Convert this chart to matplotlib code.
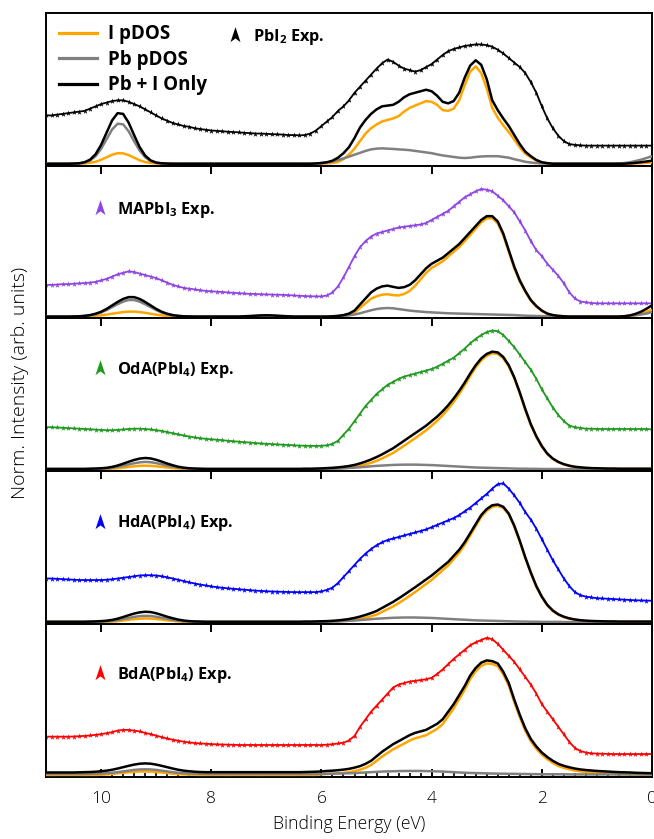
import numpy as np
import matplotlib
matplotlib.use('Agg')
import matplotlib.pyplot as plt
from matplotlib.path import Path
from matplotlib.lines import Line2D
from matplotlib.ticker import MultipleLocator

plt.rcParams['font.family'] = ['Open Sans', 'DejaVu Sans']

# Binding energy grid (eV), 11.0 -> 0.0 in 0.1 steps
energy = np.round(np.linspace(11.0, 0.0, 111), 2)

# ---------------- Panel 1: PbI2 ----------------
p1_exp = [0.32, 0.32, 0.325, 0.33, 0.335, 0.34, 0.345, 0.35, 0.365, 0.38,
          0.395, 0.405, 0.415, 0.42, 0.42, 0.41, 0.395, 0.38, 0.36, 0.34,
          0.32, 0.30, 0.285, 0.27, 0.26, 0.25, 0.245, 0.235, 0.23, 0.225,
          0.22, 0.218, 0.215, 0.212, 0.21, 0.208, 0.205, 0.203, 0.2, 0.2,
          0.198, 0.196, 0.195, 0.193, 0.19, 0.19, 0.188, 0.19, 0.20, 0.22,
          0.25, 0.28, 0.31, 0.35, 0.38, 0.42, 0.47, 0.51, 0.55, 0.59,
          0.63, 0.665, 0.69, 0.675, 0.65, 0.63, 0.62, 0.61, 0.62, 0.64,
          0.66, 0.69, 0.72, 0.745, 0.76, 0.77, 0.78, 0.785, 0.79, 0.79,
          0.785, 0.775, 0.755, 0.73, 0.70, 0.67, 0.64, 0.60, 0.54, 0.47,
          0.38, 0.30, 0.235, 0.185, 0.15, 0.13, 0.125, 0.122, 0.12, 0.12,
          0.12, 0.12, 0.12, 0.12, 0.12, 0.12, 0.12, 0.12, 0.12, 0.12,
          0.12]
p1_tot = [0, 0, 0, 0, 0, 0.001, 0.003, 0.01, 0.027, 0.063,
          0.125, 0.206, 0.287, 0.335, 0.33, 0.272, 0.189, 0.11, 0.054, 0.022,
          0.008, 0.003, 0.001, 0, 0, 0, 0, 0, 0, 0,
          0, 0, 0, 0, 0, 0, 0, 0, 0, 0,
          0, 0, 0, 0, 0, 0, 0, 0, 0, 0.002,
          0.005, 0.01, 0.02, 0.04, 0.07, 0.11, 0.17, 0.24, 0.29, 0.33,
          0.36, 0.38, 0.385, 0.39, 0.41, 0.44, 0.46, 0.47, 0.48, 0.49,
          0.48, 0.45, 0.41, 0.40, 0.415, 0.47, 0.57, 0.65, 0.685, 0.655,
          0.56, 0.42, 0.355, 0.30, 0.25, 0.19, 0.13, 0.08, 0.05, 0.025,
          0.01, 0.004, 0, 0, 0, 0, 0, 0, 0, 0,
          0, 0, 0, 0, 0, 0, 0.003, 0.006, 0.01, 0.015,
          0.02]
p1_pb = [0, 0, 0, 0, 0, 0.001, 0.002, 0.008, 0.021, 0.05,
         0.099, 0.163, 0.227, 0.265, 0.261, 0.215, 0.149, 0.087, 0.043, 0.017,
         0.006, 0.002, 0.001, 0, 0, 0, 0, 0, 0, 0,
         0, 0, 0, 0, 0, 0, 0, 0, 0, 0,
         0, 0, 0, 0, 0, 0, 0, 0, 0, 0,
         0.005, 0.008, 0.015, 0.025, 0.035, 0.047, 0.06, 0.072, 0.085, 0.095,
         0.10, 0.102, 0.10, 0.098, 0.095, 0.093, 0.09, 0.085, 0.08, 0.075,
         0.07, 0.062, 0.055, 0.05, 0.045, 0.04, 0.038, 0.04, 0.045, 0.048,
         0.05, 0.05, 0.05, 0.045, 0.04, 0.03, 0.022, 0.013, 0.008, 0.004,
         0.002, 0, 0, 0, 0, 0, 0, 0, 0, 0,
         0, 0, 0, 0, 0.002, 0.005, 0.01, 0.018, 0.027, 0.038,
         0.05]
p1_i = [0, 0, 0, 0, 0, 0, 0.001, 0.002, 0.006, 0.013,
        0.026, 0.043, 0.06, 0.07, 0.069, 0.057, 0.04, 0.023, 0.011, 0.005,
        0.002, 0.001, 0, 0, 0, 0, 0, 0, 0, 0,
        0, 0, 0, 0, 0, 0, 0, 0, 0, 0,
        0, 0, 0, 0, 0, 0, 0, 0, 0, 0,
        0, 0.002, 0.005, 0.012, 0.03, 0.06, 0.10, 0.15, 0.20, 0.235,
        0.26, 0.28, 0.29, 0.30, 0.315, 0.345, 0.37, 0.385, 0.40, 0.415,
        0.41, 0.39, 0.355, 0.35, 0.365, 0.42, 0.52, 0.61, 0.645, 0.60,
        0.50, 0.37, 0.305, 0.255, 0.21, 0.16, 0.108, 0.067, 0.042, 0.021,
        0.008, 0.003, 0, 0, 0, 0, 0, 0, 0, 0,
        0, 0, 0, 0, 0, 0, 0, 0.002, 0.004, 0.006,
        0.01]

# ---------------- Panel 2: MAPbI3 ----------------
p2_exp = [0.21, 0.21, 0.212, 0.215, 0.215, 0.218, 0.22, 0.222, 0.225, 0.23,
          0.24, 0.25, 0.265, 0.28, 0.29, 0.30, 0.295, 0.285, 0.275, 0.265,
          0.255, 0.24, 0.225, 0.21, 0.20, 0.19, 0.185, 0.18, 0.175, 0.17,
          0.168, 0.165, 0.163, 0.16, 0.158, 0.155, 0.153, 0.15, 0.15, 0.148,
          0.147, 0.146, 0.145, 0.144, 0.142, 0.14, 0.138, 0.136, 0.135, 0.134,
          0.134, 0.14, 0.16, 0.20, 0.26, 0.33, 0.40, 0.46, 0.50, 0.53,
          0.55, 0.56, 0.57, 0.58, 0.59, 0.595, 0.60, 0.605, 0.61, 0.62,
          0.64, 0.66, 0.68, 0.70, 0.73, 0.76, 0.79, 0.81, 0.83, 0.845,
          0.84, 0.83, 0.80, 0.77, 0.73, 0.69, 0.63, 0.57, 0.50, 0.44,
          0.40, 0.35, 0.31, 0.27, 0.22, 0.16, 0.12, 0.10, 0.095, 0.09,
          0.088, 0.088, 0.088, 0.088, 0.088, 0.088, 0.088, 0.088, 0.088, 0.088,
          0.088]
p2_tot = [0, 0, 0, 0, 0, 0.001, 0.002, 0.005, 0.010, 0.019,
          0.032, 0.051, 0.074, 0.097, 0.117, 0.129, 0.129, 0.117, 0.097, 0.074,
          0.051, 0.032, 0.019, 0.010, 0.005, 0.002, 0.001, 0, 0, 0,
          0, 0, 0, 0, 0, 0, 0.002, 0.004, 0.006, 0.008,
          0.009, 0.008, 0.006, 0.004, 0.002, 0, 0, 0, 0, 0,
          0, 0, 0.002, 0.005, 0.01, 0.02, 0.04, 0.08, 0.12, 0.16,
          0.185, 0.2, 0.205, 0.197, 0.19, 0.195, 0.21, 0.24, 0.28, 0.32,
          0.35, 0.37, 0.39, 0.42, 0.45, 0.48, 0.52, 0.56, 0.60, 0.64,
          0.665, 0.665, 0.63, 0.55, 0.44, 0.33, 0.24, 0.17, 0.11, 0.07,
          0.04, 0.02, 0.01, 0.005, 0.002, 0, 0, 0, 0, 0,
          0, 0, 0, 0, 0, 0.003, 0.008, 0.018, 0.032, 0.052,
          0.075]
p2_pb = [0, 0, 0, 0, 0, 0.001, 0.002, 0.004, 0.008, 0.016,
         0.027, 0.043, 0.063, 0.082, 0.099, 0.11, 0.11, 0.099, 0.082, 0.063,
         0.043, 0.027, 0.016, 0.008, 0.004, 0.002, 0.001, 0, 0, 0,
         0, 0, 0, 0, 0, 0, 0.001, 0.002, 0.003, 0.004,
         0.004, 0.004, 0.003, 0.002, 0.001, 0, 0, 0, 0, 0,
         0, 0, 0.001, 0.002, 0.004, 0.008, 0.014, 0.022, 0.032, 0.042,
         0.05, 0.055, 0.057, 0.055, 0.05, 0.045, 0.04, 0.036, 0.033, 0.03,
         0.028, 0.026, 0.024, 0.022, 0.021, 0.02, 0.019, 0.018, 0.017, 0.016,
         0.015, 0.014, 0.013, 0.012, 0.011, 0.01, 0.008, 0.006, 0.005, 0.004,
         0.003, 0.002, 0.001, 0, 0, 0, 0, 0, 0, 0,
         0, 0, 0, 0, 0, 0.002, 0.005, 0.009, 0.014, 0.02,
         0.03]
p2_i = [0, 0, 0, 0, 0, 0, 0.001, 0.001, 0.003, 0.005,
        0.008, 0.013, 0.019, 0.025, 0.03, 0.033, 0.033, 0.03, 0.025, 0.019,
        0.013, 0.008, 0.005, 0.003, 0.001, 0, 0, 0, 0, 0,
        0, 0, 0, 0, 0, 0, 0.001, 0.002, 0.003, 0.004,
        0.004, 0.004, 0.003, 0.002, 0.001, 0, 0, 0, 0, 0,
        0, 0, 0.001, 0.003, 0.006, 0.012, 0.026, 0.058, 0.088, 0.118,
        0.135, 0.145, 0.148, 0.142, 0.14, 0.15, 0.17, 0.204, 0.247, 0.29,
        0.322, 0.344, 0.366, 0.398, 0.429, 0.46, 0.50, 0.54, 0.583, 0.624,
        0.65, 0.651, 0.617, 0.538, 0.429, 0.32, 0.232, 0.164, 0.105, 0.066,
        0.037, 0.018, 0.009, 0.005, 0.002, 0, 0, 0, 0, 0,
        0, 0, 0, 0, 0, 0.001, 0.003, 0.009, 0.018, 0.032,
        0.045]

# ---------------- Panel 3: OdA(PbI4) ----------------
p3_exp = [0.28, 0.28, 0.278, 0.276, 0.274, 0.272, 0.27, 0.268, 0.266, 0.264,
          0.262, 0.26, 0.26, 0.262, 0.265, 0.268, 0.27, 0.27, 0.268, 0.265,
          0.26, 0.255, 0.248, 0.24, 0.232, 0.225, 0.218, 0.212, 0.207, 0.203,
          0.2, 0.197, 0.194, 0.19, 0.187, 0.184, 0.181, 0.178, 0.175, 0.172,
          0.17, 0.168, 0.166, 0.164, 0.162, 0.16, 0.158, 0.157, 0.156, 0.156,
          0.157, 0.16, 0.17, 0.19, 0.23, 0.27, 0.32, 0.37, 0.42, 0.46,
          0.50, 0.53, 0.56, 0.58, 0.60, 0.615, 0.625, 0.635, 0.645, 0.655,
          0.665, 0.68, 0.70, 0.72, 0.74, 0.77, 0.80, 0.835, 0.865, 0.89,
          0.91, 0.92, 0.915, 0.89, 0.85, 0.81, 0.76, 0.71, 0.66, 0.60,
          0.53, 0.47, 0.41, 0.36, 0.32, 0.29, 0.28, 0.275, 0.27, 0.27,
          0.268, 0.268, 0.268, 0.268, 0.268, 0.268, 0.268, 0.268, 0.268, 0.268,
          0.265]
p3_tot = [0.004, 0.004, 0.004, 0.004, 0.004, 0.004, 0.004, 0.004, 0.005, 0.006,
          0.008, 0.011, 0.017, 0.026, 0.038, 0.051, 0.063, 0.072, 0.076, 0.073,
          0.064, 0.052, 0.039, 0.028, 0.018, 0.012, 0.008, 0.006, 0.005, 0.004,
          0.004, 0.004, 0.004, 0.004, 0.004, 0.004, 0.004, 0.004, 0.004, 0.004,
          0.004, 0.004, 0.004, 0.004, 0.004, 0.004, 0.004, 0.005, 0.005, 0.006,
          0.007, 0.009, 0.011, 0.014, 0.018, 0.023, 0.03, 0.04, 0.052, 0.066,
          0.082, 0.10, 0.12, 0.14, 0.165, 0.19, 0.215, 0.24, 0.265, 0.29,
          0.32, 0.35, 0.385, 0.425, 0.47, 0.52, 0.575, 0.635, 0.69, 0.735,
          0.765, 0.78, 0.775, 0.745, 0.69, 0.61, 0.51, 0.40, 0.30, 0.22,
          0.155, 0.105, 0.072, 0.05, 0.035, 0.025, 0.018, 0.014, 0.011, 0.009,
          0.008, 0.007, 0.006, 0.006, 0.005, 0.005, 0.005, 0.005, 0.005, 0.005,
          0.005]
p3_pb = [0.002, 0.002, 0.002, 0.002, 0.002, 0.002, 0.002, 0.002, 0.003, 0.004,
         0.005, 0.007, 0.011, 0.017, 0.025, 0.033, 0.041, 0.047, 0.05, 0.048,
         0.042, 0.034, 0.025, 0.018, 0.012, 0.008, 0.005, 0.004, 0.003, 0.002,
         0.002, 0.002, 0.002, 0.002, 0.002, 0.002, 0.002, 0.002, 0.002, 0.002,
         0.002, 0.002, 0.002, 0.002, 0.002, 0.002, 0.002, 0.002, 0.002, 0.002,
         0.003, 0.004, 0.005, 0.006, 0.008, 0.01, 0.012, 0.015, 0.018, 0.021,
         0.024, 0.026, 0.028, 0.03, 0.031, 0.032, 0.032, 0.032, 0.031, 0.03,
         0.029, 0.027, 0.025, 0.023, 0.021, 0.019, 0.017, 0.015, 0.013, 0.012,
         0.011, 0.01, 0.009, 0.008, 0.007, 0.006, 0.005, 0.005, 0.004, 0.004,
         0.003, 0.003, 0.003, 0.003, 0.002, 0.002, 0.002, 0.002, 0.002, 0.002,
         0.002, 0.002, 0.002, 0.002, 0.002, 0.002, 0.002, 0.002, 0.002, 0.002,
         0.002]
p3_i = [0.001, 0.001, 0.001, 0.001, 0.001, 0.001, 0.001, 0.001, 0.001, 0.001,
        0.002, 0.003, 0.005, 0.008, 0.012, 0.017, 0.021, 0.024, 0.025, 0.024,
        0.021, 0.017, 0.013, 0.009, 0.006, 0.004, 0.002, 0.001, 0.001, 0.001,
        0.001, 0.001, 0.001, 0.001, 0.001, 0.001, 0.001, 0.001, 0.001, 0.001,
        0.001, 0.001, 0.001, 0.001, 0.001, 0.001, 0.001, 0.001, 0.001, 0.001,
        0.003, 0.004, 0.005, 0.007, 0.009, 0.012, 0.017, 0.024, 0.033, 0.044,
        0.057, 0.073, 0.091, 0.109, 0.133, 0.157, 0.182, 0.207, 0.233, 0.259,
        0.29, 0.322, 0.359, 0.401, 0.448, 0.50, 0.557, 0.619, 0.676, 0.722,
        0.753, 0.769, 0.765, 0.736, 0.682, 0.603, 0.504, 0.394, 0.295, 0.215,
        0.151, 0.102, 0.07, 0.048, 0.033, 0.023, 0.016, 0.012, 0.009, 0.007,
        0.006, 0.005, 0.004, 0.004, 0.003, 0.003, 0.003, 0.003, 0.003, 0.003,
        0.003]

# ---------------- Panel 4: HdA(PbI4) ----------------
p4_exp = [0.29, 0.29, 0.288, 0.286, 0.284, 0.282, 0.28, 0.28, 0.28, 0.28,
          0.28, 0.282, 0.285, 0.29, 0.295, 0.30, 0.305, 0.31, 0.312, 0.312,
          0.31, 0.305, 0.298, 0.29, 0.282, 0.273, 0.265, 0.257, 0.25, 0.244,
          0.238, 0.233, 0.229, 0.225, 0.222, 0.219, 0.216, 0.213, 0.21, 0.208,
          0.206, 0.204, 0.203, 0.202, 0.201, 0.2, 0.2, 0.2, 0.2, 0.2,
          0.205, 0.215, 0.23, 0.26, 0.30, 0.34, 0.38, 0.42, 0.455, 0.485,
          0.51, 0.53, 0.545, 0.555, 0.565, 0.575, 0.585, 0.595, 0.605, 0.615,
          0.63, 0.645, 0.66, 0.675, 0.69, 0.71, 0.735, 0.76, 0.79, 0.82,
          0.85, 0.885, 0.915, 0.92, 0.885, 0.84, 0.79, 0.73, 0.68, 0.62,
          0.55, 0.48, 0.41, 0.35, 0.29, 0.24, 0.20, 0.18, 0.17, 0.165,
          0.16, 0.158, 0.156, 0.154, 0.152, 0.15, 0.148, 0.146, 0.145, 0.144,
          0.143]
p4_tot = [0.004, 0.004, 0.004, 0.004, 0.004, 0.004, 0.004, 0.004, 0.005, 0.006,
          0.008, 0.011, 0.016, 0.024, 0.035, 0.047, 0.058, 0.066, 0.07, 0.068,
          0.06, 0.049, 0.037, 0.027, 0.018, 0.012, 0.008, 0.006, 0.005, 0.004,
          0.004, 0.004, 0.004, 0.004, 0.004, 0.004, 0.004, 0.004, 0.004, 0.004,
          0.004, 0.004, 0.004, 0.004, 0.004, 0.004, 0.004, 0.005, 0.005, 0.006,
          0.007, 0.008, 0.01, 0.013, 0.017, 0.022, 0.029, 0.038, 0.049, 0.061,
          0.075, 0.095, 0.115, 0.135, 0.158, 0.182, 0.207, 0.232, 0.258, 0.284,
          0.31, 0.34, 0.37, 0.40, 0.44, 0.48, 0.53, 0.59, 0.65, 0.71,
          0.75, 0.775, 0.78, 0.765, 0.72, 0.64, 0.54, 0.43, 0.33, 0.24,
          0.17, 0.115, 0.078, 0.053, 0.037, 0.026, 0.019, 0.014, 0.011, 0.009,
          0.008, 0.007, 0.006, 0.006, 0.005, 0.005, 0.005, 0.005, 0.005, 0.005,
          0.005]
p4_pb = [0.002, 0.002, 0.002, 0.002, 0.002, 0.002, 0.002, 0.002, 0.003, 0.004,
         0.005, 0.007, 0.01, 0.015, 0.022, 0.029, 0.036, 0.041, 0.043, 0.042,
         0.037, 0.03, 0.023, 0.016, 0.011, 0.007, 0.005, 0.004, 0.003, 0.002,
         0.002, 0.002, 0.002, 0.002, 0.002, 0.002, 0.002, 0.002, 0.002, 0.002,
         0.002, 0.002, 0.002, 0.002, 0.002, 0.002, 0.002, 0.002, 0.002, 0.002,
         0.003, 0.004, 0.005, 0.006, 0.008, 0.01, 0.012, 0.015, 0.018, 0.021,
         0.024, 0.026, 0.028, 0.03, 0.031, 0.032, 0.032, 0.032, 0.031, 0.03,
         0.029, 0.027, 0.025, 0.023, 0.021, 0.019, 0.017, 0.015, 0.013, 0.012,
         0.011, 0.01, 0.009, 0.008, 0.007, 0.006, 0.005, 0.005, 0.004, 0.004,
         0.003, 0.003, 0.003, 0.003, 0.002, 0.002, 0.002, 0.002, 0.002, 0.002,
         0.002, 0.002, 0.002, 0.002, 0.002, 0.002, 0.002, 0.002, 0.002, 0.002,
         0.002]
p4_i = [0.001, 0.001, 0.001, 0.001, 0.001, 0.001, 0.001, 0.001, 0.001, 0.001,
        0.002, 0.003, 0.005, 0.008, 0.012, 0.017, 0.021, 0.024, 0.026, 0.025,
        0.022, 0.018, 0.013, 0.01, 0.006, 0.004, 0.002, 0.001, 0.001, 0.001,
        0.001, 0.001, 0.001, 0.001, 0.001, 0.001, 0.001, 0.001, 0.001, 0.001,
        0.001, 0.001, 0.001, 0.001, 0.001, 0.001, 0.001, 0.001, 0.001, 0.001,
        0.003, 0.004, 0.005, 0.007, 0.009, 0.012, 0.017, 0.023, 0.031, 0.04,
        0.051, 0.069, 0.087, 0.105, 0.127, 0.15, 0.175, 0.2, 0.227, 0.254,
        0.281, 0.313, 0.345, 0.377, 0.419, 0.461, 0.513, 0.575, 0.637, 0.698,
        0.739, 0.765, 0.771, 0.757, 0.713, 0.634, 0.535, 0.425, 0.326, 0.236,
        0.167, 0.112, 0.075, 0.05, 0.034, 0.024, 0.017, 0.012, 0.009, 0.007,
        0.006, 0.005, 0.004, 0.004, 0.003, 0.003, 0.003, 0.003, 0.003, 0.003,
        0.003]

# ---------------- Panel 5: BdA(PbI4) ----------------
p5_exp = [0.255, 0.255, 0.255, 0.255, 0.255, 0.256, 0.258, 0.26, 0.263, 0.267,
          0.272, 0.278, 0.285, 0.295, 0.30, 0.30, 0.295, 0.29, 0.28, 0.272,
          0.262, 0.252, 0.243, 0.235, 0.228, 0.222, 0.217, 0.213, 0.21, 0.208,
          0.206, 0.204, 0.203, 0.202, 0.201, 0.2, 0.2, 0.2, 0.2, 0.2,
          0.2, 0.2, 0.2, 0.2, 0.2, 0.2, 0.2, 0.2, 0.2, 0.2,
          0.2, 0.202, 0.205, 0.21, 0.215, 0.23, 0.26, 0.32, 0.37, 0.42,
          0.46, 0.50, 0.54, 0.58, 0.60, 0.61, 0.62, 0.625, 0.63, 0.635,
          0.645, 0.67, 0.70, 0.735, 0.77, 0.80, 0.83, 0.86, 0.88, 0.895,
          0.91, 0.90, 0.87, 0.83, 0.79, 0.75, 0.70, 0.65, 0.60, 0.54,
          0.47, 0.42, 0.37, 0.32, 0.27, 0.22, 0.18, 0.16, 0.15, 0.145,
          0.143, 0.142, 0.141, 0.14, 0.14, 0.14, 0.14, 0.14, 0.14, 0.14,
          0.14]
p5_tot = [0.018, 0.018, 0.018, 0.018, 0.018, 0.018, 0.019, 0.02, 0.021, 0.023,
          0.026, 0.03, 0.036, 0.044, 0.053, 0.062, 0.07, 0.076, 0.078, 0.076,
          0.07, 0.062, 0.053, 0.044, 0.036, 0.03, 0.026, 0.023, 0.021, 0.02,
          0.02, 0.02, 0.02, 0.02, 0.02, 0.02, 0.02, 0.02, 0.02, 0.02,
          0.02, 0.02, 0.02, 0.02, 0.02, 0.02, 0.02, 0.021, 0.022, 0.023,
          0.025, 0.028, 0.03, 0.033, 0.037, 0.042, 0.05, 0.06, 0.075, 0.095,
          0.125, 0.155, 0.18, 0.205, 0.225, 0.245, 0.265, 0.28, 0.29, 0.30,
          0.32, 0.34, 0.37, 0.42, 0.47, 0.53, 0.59, 0.66, 0.71, 0.745,
          0.76, 0.755, 0.74, 0.685, 0.61, 0.50, 0.40, 0.31, 0.24, 0.19,
          0.15, 0.12, 0.095, 0.075, 0.062, 0.052, 0.044, 0.038, 0.034, 0.031,
          0.028, 0.026, 0.024, 0.022, 0.02, 0.019, 0.018, 0.016, 0.015, 0.014,
          0.013]
p5_pb = [0.008, 0.008, 0.008, 0.008, 0.008, 0.008, 0.008, 0.008, 0.009, 0.01,
         0.011, 0.013, 0.016, 0.02, 0.025, 0.03, 0.035, 0.038, 0.039, 0.038,
         0.035, 0.03, 0.025, 0.02, 0.016, 0.013, 0.011, 0.01, 0.009, 0.008,
         0.008, 0.008, 0.008, 0.008, 0.008, 0.008, 0.008, 0.008, 0.008, 0.008,
         0.008, 0.008, 0.008, 0.008, 0.008, 0.008, 0.008, 0.008, 0.008, 0.008,
         0.008, 0.009, 0.01, 0.011, 0.012, 0.013, 0.014, 0.016, 0.018, 0.02,
         0.022, 0.024, 0.025, 0.026, 0.027, 0.028, 0.028, 0.028, 0.028, 0.027,
         0.026, 0.025, 0.024, 0.022, 0.02, 0.018, 0.016, 0.015, 0.014, 0.013,
         0.012, 0.011, 0.01, 0.01, 0.009, 0.009, 0.008, 0.008, 0.007, 0.007,
         0.006, 0.006, 0.006, 0.006, 0.006, 0.005, 0.005, 0.005, 0.005, 0.005,
         0.005, 0.005, 0.005, 0.005, 0.005, 0.005, 0.005, 0.005, 0.005, 0.005,
         0.005]
p5_i = [0.002, 0.002, 0.002, 0.002, 0.002, 0.002, 0.002, 0.002, 0.002, 0.002,
        0.003, 0.005, 0.008, 0.012, 0.016, 0.019, 0.022, 0.024, 0.025, 0.024,
        0.021, 0.018, 0.014, 0.01, 0.007, 0.005, 0.004, 0.003, 0.002, 0.002,
        0.002, 0.002, 0.002, 0.002, 0.002, 0.002, 0.002, 0.002, 0.002, 0.002,
        0.002, 0.002, 0.002, 0.002, 0.002, 0.002, 0.002, 0.002, 0.002, 0.002,
        0.006, 0.008, 0.01, 0.012, 0.015, 0.02, 0.027, 0.036, 0.049, 0.067,
        0.095, 0.123, 0.147, 0.171, 0.19, 0.209, 0.229, 0.244, 0.254, 0.265,
        0.286, 0.307, 0.338, 0.39, 0.442, 0.504, 0.566, 0.637, 0.688, 0.724,
        0.74, 0.736, 0.722, 0.667, 0.593, 0.483, 0.384, 0.294, 0.225, 0.175,
        0.136, 0.106, 0.081, 0.061, 0.048, 0.039, 0.031, 0.025, 0.021, 0.018,
        0.015, 0.013, 0.011, 0.009, 0.007, 0.006, 0.005, 0.004, 0.003, 0.003,
        0.003]

exp_labels = [r'PbI$_\mathregular{2}$ Exp.', r'MAPbI$_\mathregular{3}$ Exp.',
              r'OdA(PbI$_\mathregular{4}$) Exp.', r'HdA(PbI$_\mathregular{4}$) Exp.',
              r'BdA(PbI$_\mathregular{4}$) Exp.']
exp_colors = ['#000000', '#8f45e3', '#1f9a1f', '#0000ff', '#ff0000']
theory_labels = ['I pDOS', 'Pb pDOS', 'Pb + I Only']
theory_colors = ['#ffa500', '#808080', '#000000']
xticks_major = [10, 8, 6, 4, 2, 0]

exp_data = [p1_exp, p2_exp, p3_exp, p4_exp, p5_exp]
i_data = [p1_i, p2_i, p3_i, p4_i, p5_i]
pb_data = [p1_pb, p2_pb, p3_pb, p4_pb, p5_pb]
tot_data = [p1_tot, p2_tot, p3_tot, p4_tot, p5_tot]

# arrowhead marker
arrow = Path([(0, 1.0), (0.6, -0.8), (0, -0.35), (-0.6, -0.8), (0, 1.0)],
             [Path.MOVETO, Path.LINETO, Path.LINETO, Path.LINETO, Path.CLOSEPOLY])

W, H = 654, 839
fig = plt.figure(figsize=(W / 100, H / 100), dpi=100)
left_px, right_px = 46, 652
top_px, bot_px = 12.7, 777.0
h_px = (bot_px - top_px) / 5
label_y = [0.84, 0.71, 0.665, 0.66, 0.668]
label_x = [0.298, 0.075, 0.075, 0.075, 0.075]

for k in range(5):
    y0 = 1 - (top_px + (k + 1) * h_px) / H
    ax = fig.add_axes([left_px / W, y0, (right_px - left_px) / W, h_px / H])
    ax.set_xlim(11.0, 0.0)
    ax.set_ylim(-0.012, 1.0)
    ax.plot(energy, exp_data[k], color=exp_colors[k], lw=1.3,
            marker=arrow, markersize=4.2, markeredgewidth=0, zorder=2)
    ax.plot(energy, i_data[k], color=theory_colors[0], lw=1.8, zorder=3,
            solid_capstyle='butt')
    ax.plot(energy, tot_data[k], color=theory_colors[2], lw=1.8, zorder=4,
            solid_capstyle='butt')
    ax.plot(energy, pb_data[k], color=theory_colors[1], lw=1.8, zorder=3.5,
            solid_capstyle='butt')
    for s in ax.spines.values():
        s.set_linewidth(1.4)
    ax.set_yticks([])
    ax.set_xticks(xticks_major)
    if k == 0:
        ax.tick_params(axis='x', which='both', bottom=False, top=False,
                       labelbottom=False)
    elif k < 4:
        ax.tick_params(axis='x', which='major', bottom=False, top=True,
                       direction='in', length=6, width=1.4, labelbottom=False)
    else:
        ax.xaxis.set_minor_locator(MultipleLocator(0.2))
        ax.tick_params(axis='x', which='major', bottom=True, top=True,
                       direction='in', length=6, width=1.4, labelsize=12.5,
                       pad=10)
        ax.tick_params(axis='x', which='minor', bottom=True, top=False,
                       direction='in', length=3, width=1.2)
        for lab in ax.get_xticklabels():
            lab.set_fontweight('light')
        ax.set_xlabel('Binding Energy (eV)', fontsize=12.7, labelpad=6,
                      fontweight='light')

    h_exp = Line2D([], [], color=exp_colors[k], ls='none', marker=arrow,
                   markersize=12, markeredgewidth=0)
    leg_exp = ax.legend([h_exp], [exp_labels[k]], loc='center left',
                        bbox_to_anchor=(label_x[k], label_y[k]), frameon=False,
                        handlelength=1.0, handletextpad=0.6, borderpad=0,
                        borderaxespad=0, prop={'weight': 'bold', 'size': 11.7})
    if k == 0:
        ax.add_artist(leg_exp)
        handles = [Line2D([], [], color=c, lw=2.3) for c in theory_colors]
        ax.legend(handles, theory_labels, loc='upper left',
                  bbox_to_anchor=(0.022, 0.925), frameon=False,
                  handlelength=2.0, handletextpad=0.6, labelspacing=0.3,
                  borderpad=0, borderaxespad=0,
                  prop={'weight': 'bold', 'size': 13.5})

fig.text(20 / W, 1 - 383 / H, 'Norm. Intensity (arb. units)', rotation=90,
         ha='center', va='center', fontsize=14, fontweight='light')

fig.savefig('out.png', dpi=100)
